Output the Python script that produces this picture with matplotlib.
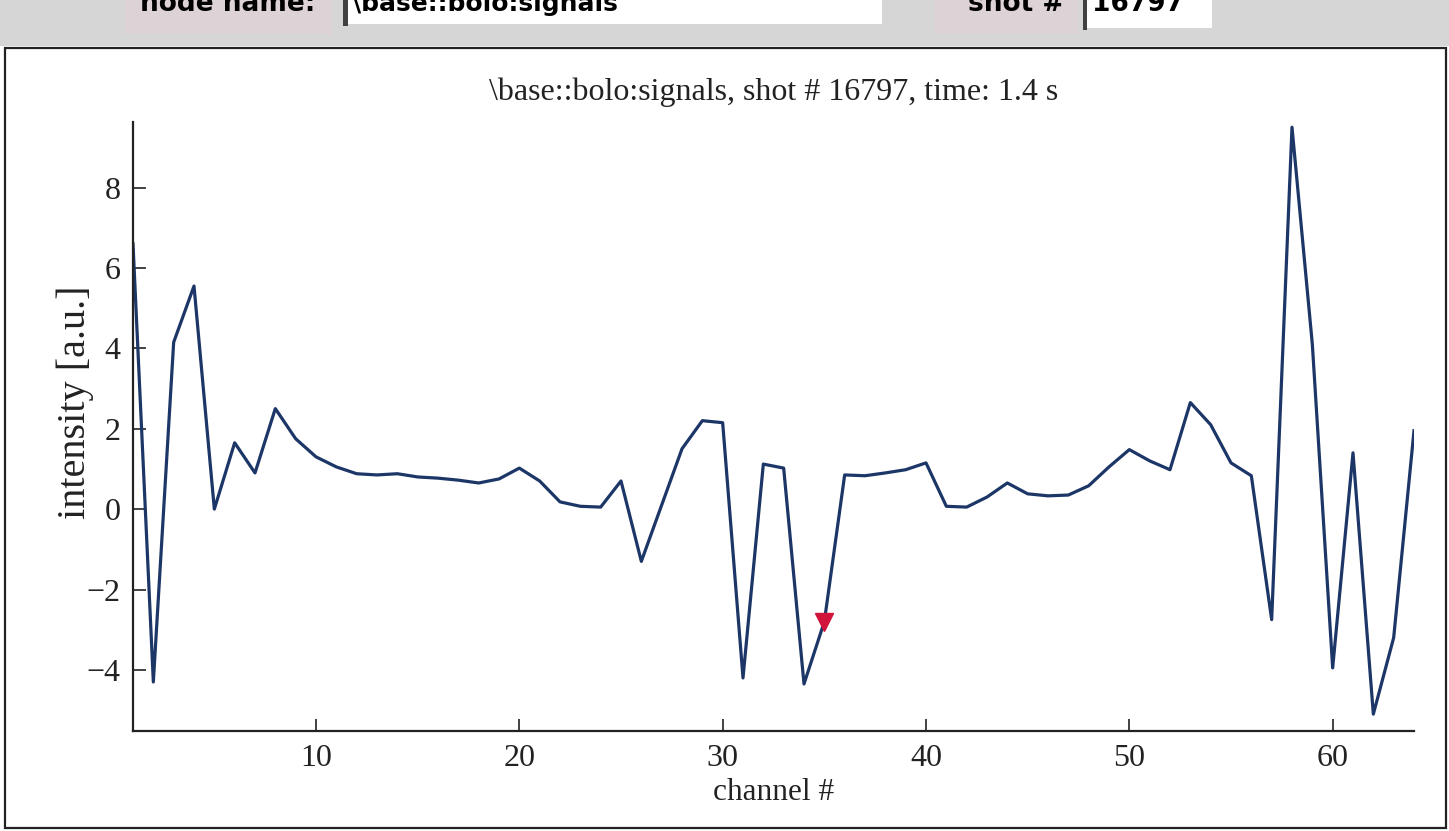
import matplotlib
matplotlib.use("Agg")
import matplotlib.pyplot as plt
from matplotlib.patches import Rectangle

# --- Data ---
channels = list(range(1, 65))
intensity = [
    6.6, -4.3, 4.15, 5.55, 0.0, 1.65, 0.9, 2.5, 1.75, 1.3,
    1.05, 0.88, 0.85, 0.88, 0.8, 0.77, 0.72, 0.65, 0.75, 1.02,
    0.7, 0.18, 0.07, 0.05, 0.7, -1.3, 0.1, 1.5, 2.2, 2.15,
    -4.2, 1.12, 1.02, -4.35, -2.8, 0.85, 0.83, 0.9, 0.98, 1.15,
    0.07, 0.05, 0.3, 0.65, 0.38, 0.33, 0.35, 0.58, 1.05, 1.48,
    1.2, 0.98, 2.65, 2.1, 1.15, 0.83, -2.75, 9.5, 4.1, -3.95,
    1.4, -5.1, -3.2, 1.95,
]
marker_ch = [35]
marker_val = [-2.8]
x_ticks = [10, 20, 30, 40, 50, 60]
y_ticks = [-4, -2, 0, 2, 4, 6, 8]

title = "\\base::bolo:signals, shot # 16797, time: 1.4 s"
node_label = "node name:"
node_value = "\\base::bolo:signals"
shot_label = "shot #"
shot_value = "16797"

W, H = 1449, 831
fig = plt.figure(figsize=(W / 100, H / 100), dpi=100)
fig.patch.set_facecolor("white")


def px(x, y):
    return x / W, 1 - y / H


def fig_rect(x0, y0, x1, y1, **kw):
    fx, fy = px(x0, y1)
    r = Rectangle((fx, fy), (x1 - x0) / W, (y1 - y0) / H,
                  transform=fig.transFigure, **kw)
    fig.add_artist(r)


# --- GUI strip at the top (cut off by the scan) ---
fig_rect(0, 0, W, 46, facecolor="#d6d6d6", edgecolor="none")
fig_rect(125, 0, 332, 34, facecolor="#ddd2d6", edgecolor="none")
fig_rect(345, 0, 882, 24, facecolor="white", edgecolor="none")
fig_rect(343, 0, 348, 26, facecolor="#404040", edgecolor="none")
fig_rect(935, 0, 1078, 34, facecolor="#ddd2d6", edgecolor="none")
fig_rect(1085, 0, 1212, 28, facecolor="white", edgecolor="none")
fig_rect(1083, 0, 1087, 30, facecolor="#404040", edgecolor="none")

sans = ["DejaVu Sans"]
top_y = 4
fig.text(*px(140, top_y), node_label, fontsize=19, fontweight="bold",
         family=sans, va="center", ha="left")
fig.text(*px(352, top_y), node_value, fontsize=18, fontweight="bold",
         family=sans, va="center", ha="left")
fig.text(*px(968, top_y), shot_label, fontsize=19, fontweight="bold",
         family=sans, va="center", ha="left")
fig.text(*px(1092, top_y), shot_value, fontsize=19, fontweight="bold",
         family=sans, va="center", ha="left")

# panel frame
fig_rect(5, 48, 1446, 828, facecolor="none", edgecolor="#222222", linewidth=1.6)

# --- Axes ---
serif = ["Liberation Serif", "DejaVu Serif"]
ax = fig.add_axes([133 / W, 1 - 731 / H, (1414 - 133) / W, (731 - 122) / H])
ax.plot(channels, intensity, color="#1c3667", linewidth=2.3)
ax.plot(marker_ch, marker_val, linestyle="none", marker="v",
        markersize=13, color="#d0143c")

ax.set_xlim(1, 64)
ax.set_ylim(-5.52, 9.63)
ax.set_xticks(x_ticks)
ax.set_yticks(y_ticks)
ax.set_yticklabels([str(v).replace("-", "\u2212") for v in y_ticks])

for side in ("top", "right"):
    ax.spines[side].set_visible(False)
for side in ("left", "bottom"):
    ax.spines[side].set_linewidth(1.6)
    ax.spines[side].set_color("#222222")

ax.tick_params(direction="in", length=9, width=1.2, colors="#222222",
               labelsize=23, pad=9)
for lab in ax.get_xticklabels() + ax.get_yticklabels():
    lab.set_family(serif)

ax.set_title(title, fontsize=23, family=serif, color="#222222", pad=16)
ax.set_xlabel("channel #", fontsize=22.5, family=serif, color="#222222", labelpad=4)
ax.set_ylabel("intensity [a.u.]", fontsize=29, family=serif, color="#222222",
              va="center")
ax.yaxis.set_label_coords(-0.045, 0.54)

fig.savefig("out.png", dpi=100)
plt.close(fig)
